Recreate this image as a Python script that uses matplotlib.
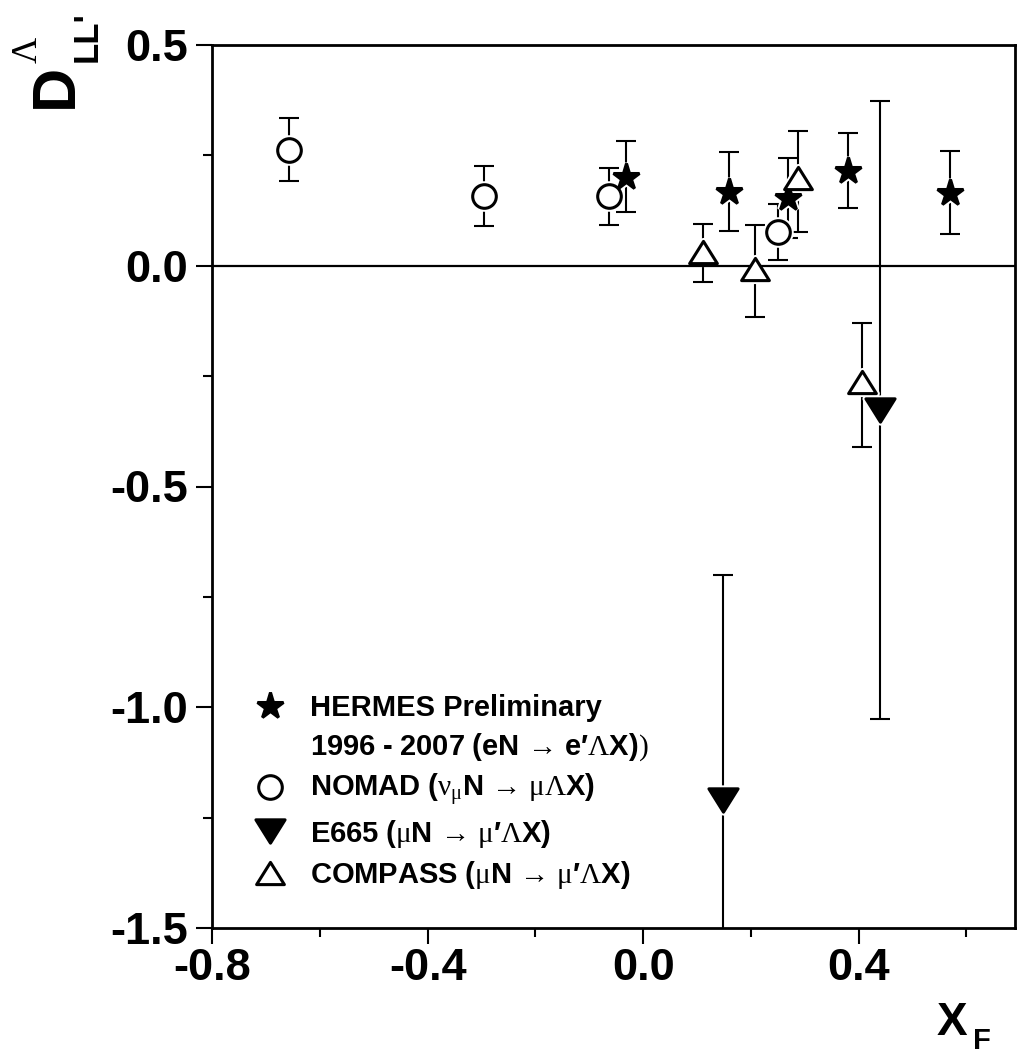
import numpy as np
import matplotlib.pyplot as plt
from matplotlib.path import Path
from matplotlib.lines import Line2D
from matplotlib.ticker import MultipleLocator, FormatStrFormatter

plt.rcParams['font.family'] = 'Liberation Sans'
plt.rcParams['font.weight'] = 'bold'
plt.rcParams['axes.unicode_minus'] = False
plt.rcParams['mathtext.fontset'] = 'custom'
plt.rcParams['mathtext.rm'] = 'Liberation Serif:weight=normal:style=normal'
plt.rcParams['mathtext.it'] = 'Liberation Serif:weight=normal:style=normal'
plt.rcParams['mathtext.bf'] = 'Liberation Sans:weight=bold'

# HERMES preliminary 1996-2007
hermes_x = [-0.032, 0.160, 0.268, 0.381, 0.570]
hermes_y = [0.202, 0.168, 0.153, 0.215, 0.165]
hermes_err = [0.080, 0.090, 0.090, 0.085, 0.094]

# NOMAD
nomad_x = [-0.657, -0.296, -0.063, 0.251]
nomad_y = [0.263, 0.159, 0.157, 0.077]
nomad_err = [0.072, 0.068, 0.065, 0.063]

# E665
e665_x = [0.149, 0.439]
e665_y = [-1.21, -0.326]
e665_err = [0.51, 0.70]

# COMPASS (asymmetric errors)
compass_x = [0.111, 0.207, 0.288, 0.406]
compass_y = [0.032, -0.007, 0.198, -0.263]
compass_lo = [0.068, 0.109, 0.121, 0.147]
compass_hi = [0.063, 0.100, 0.108, 0.134]

labels = ["HERMES Preliminary",
          "$\\mathbf{1996\\ \u00ad\\ 2007\\ (eN}\\,\\rightarrow\\,\\mathbf{e\u2032}\\Lambda\\mathbf{X)})$",
          r"$\mathbf{NOMAD\ (}\nu_{\mu}\mathbf{N}\,\rightarrow\,\mu\Lambda\mathbf{X)}$",
          r"$\mathbf{E665\ (}\mu\mathbf{N}\,\rightarrow\,\mu\mathbf{′}\Lambda\mathbf{X)}$",
          r"$\mathbf{COMPASS\ (}\mu\mathbf{N}\,\rightarrow\,\mu\mathbf{′}\Lambda\mathbf{X)}$"]

tri_up = Path([(0, 0.8), (-1, -0.8), (1, -0.8), (0, 0.8)], closed=True)
tri_dn = Path([(0, -0.8), (-1, 0.8), (1, 0.8), (0, -0.8)], closed=True)

W, H = 1018, 1055
fig = plt.figure(figsize=(W / 100, H / 100), dpi=100)
ax = fig.add_axes([212 / W, 1 - 928 / H, 803 / W, 883 / H])


def draw(x, y, yerr, marker, ms, filled):
    ax.errorbar(x, y, yerr=yerr, fmt='none', ecolor='black', elinewidth=1.5,
                capsize=7, capthick=1.5, zorder=2)
    # white halo around the symbols, like the original
    ax.plot(x, y, ls='none', marker=marker, ms=ms, mfc='white', mec='white',
            mew=5, zorder=3)
    fc = 'black' if filled else 'white'
    line, = ax.plot(x, y, ls='none', marker=marker, ms=ms, mfc=fc, mec='black',
                    mew=2.2, zorder=4)
    return line


h_star = draw(hermes_x, hermes_y, hermes_err, '*', 19.5, True)
h_circ = draw(nomad_x, nomad_y, nomad_err, 'o', 17, False)
h_dn = draw(e665_x, e665_y, e665_err, tri_dn, 21, True)
h_up = draw(compass_x, compass_y, [compass_lo, compass_hi], tri_up, 20, False)

ax.axhline(0, color='black', lw=1.6, zorder=3.5)

ax.set_xlim(-0.8, 0.69)
ax.set_ylim(-1.5, 0.5)
ax.set_xticks([-0.8, -0.4, 0.0, 0.4])
ax.set_yticks([-1.5, -1.0, -0.5, 0.0, 0.5])
ax.xaxis.set_minor_locator(MultipleLocator(0.2))
ax.yaxis.set_minor_locator(MultipleLocator(0.25))
ax.xaxis.set_major_formatter(FormatStrFormatter('%.1f'))
ax.yaxis.set_major_formatter(FormatStrFormatter('%.1f'))
ax.tick_params(which='both', direction='out', width=1.5, labelsize=32.5)
ax.tick_params(which='major', length=11.5)
ax.tick_params(which='minor', length=6.5)
ax.tick_params(axis='x', pad=3)
ax.tick_params(axis='y', pad=6)
for s in ax.spines.values():
    s.set_linewidth(2)

blank = Line2D([], [], ls='none')
ax.legend([h_star, blank, h_circ, h_dn, h_up], labels, loc='upper left',
          bbox_to_anchor=((252 - 212) / 803, (928 - 694) / 883),
          frameon=False, fontsize=21, handlelength=1.2, handletextpad=0.8,
          borderpad=0, borderaxespad=0, labelspacing=0.32)

# axis titles built from pieces, as in the original
fig.text(72 / W, 1 - 108 / H, "D", rotation=90, rotation_mode='anchor',
         ha='left', va='baseline', fontsize=44)
fig.text(37 / W, 1 - 63 / H, "\u039b", rotation=90, rotation_mode='anchor',
         ha='left', va='baseline', fontsize=26, family='Liberation Serif',
         weight='normal')
fig.text(97 / W, 1 - 62 / H, "LL'", rotation=90, rotation_mode='anchor',
         ha='left', va='baseline', fontsize=25)
fig.text(937 / W, 1 - 1035 / H, "X", ha='left', va='baseline', fontsize=33)
fig.text(973 / W, 1 - 1049 / H, "F", ha='left', va='baseline', fontsize=21)

fig.savefig('out.png', dpi=100)
